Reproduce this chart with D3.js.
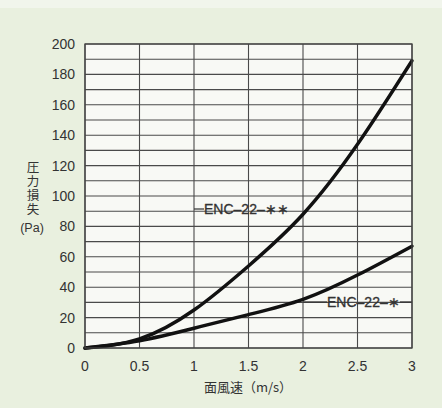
<!DOCTYPE html>
<html>
<head>
<meta charset="utf-8">
<script src="https://cdn.jsdelivr.net/npm/d3@7"></script>
<style>
  html, body { margin: 0; padding: 0; background: #e9f0df; }
  svg { display: block; font-family: 'Liberation Sans', Arial, sans-serif; }
</style>
</head>
<body>
<svg id="chart" width="442" height="408"></svg>
<script>
// 面風速 (m/s)
const speeds = [0, 0.5, 1, 1.5, 2, 2.5, 3]
// 圧力損失 (Pa)
const lossDouble = [0, 6, 25, 54, 88, 134, 189] // ENC-22-**
const lossSingle = [0, 4.8, 13, 22, 32, 48, 67] // ENC-22-*
const xTicks = [0, 0.5, 1, 1.5, 2, 2.5, 3]
const yTicks = [0, 20, 40, 60, 80, 100, 120, 140, 160, 180, 200]
const yGrid = d3.range(0, 201, 10)

const svg = d3.select('#chart')
const plot = { left: 85, right: 412, top: 44, bottom: 348 }

const x = d3.scaleLinear().domain([0, 3]).range([plot.left, plot.right])
const y = d3.scaleLinear().domain([0, 200]).range([plot.bottom, plot.top])

// faint lighter band on top, like the scan
svg.append('rect').attr('x', 0).attr('y', 0).attr('width', 442).attr('height', 8).attr('fill', '#f1f5ec')

svg
  .append('rect')
  .attr('x', plot.left)
  .attr('y', plot.top)
  .attr('width', plot.right - plot.left)
  .attr('height', plot.bottom - plot.top)
  .attr('fill', '#f8f9f5')

const grid = svg.append('g').attr('stroke', '#4a4a4a').attr('stroke-width', 1.1)
grid
  .selectAll('line.h')
  .data(yGrid)
  .join('line')
  .attr('x1', plot.left)
  .attr('x2', plot.right)
  .attr('y1', (d) => y(d))
  .attr('y2', (d) => y(d))
grid
  .selectAll('line.v')
  .data(xTicks)
  .join('line')
  .attr('x1', (d) => x(d))
  .attr('x2', (d) => x(d))
  .attr('y1', plot.top)
  .attr('y2', plot.bottom)

// y tick labels
svg
  .append('g')
  .attr('fill', '#333')
  .attr('font-size', 14)
  .attr('text-anchor', 'end')
  .selectAll('text')
  .data(yTicks)
  .join('text')
  .attr('x', 75)
  .attr('y', (d) => y(d))
  .attr('dy', '0.35em')
  .text((d) => d)

// x tick labels
svg
  .append('g')
  .attr('fill', '#333')
  .attr('font-size', 14)
  .attr('text-anchor', 'middle')
  .selectAll('text')
  .data(xTicks)
  .join('text')
  .attr('x', (d) => x(d))
  .attr('y', 366)
  .attr('dy', '0.35em')
  .text((d) => d)

// axis titles
svg
  .append('text')
  .attr('x', 248)
  .attr('y', 387)
  .attr('dy', '0.35em')
  .attr('text-anchor', 'middle')
  .attr('font-size', 13)
  .attr('fill', '#333')
  .attr('font-family', 'Noto Sans CJK JP')
  .text('面風速（m/s）')

// vertical title, one text element set top to bottom
svg
  .append('text')
  .attr('x', 33)
  .attr('y', 161)
  .attr('font-size', 12.5)
  .attr('font-family', 'Noto Sans CJK JP')
  .attr('fill', '#333')
  .style('writing-mode', 'vertical-rl')
  .style('letter-spacing', '1.5px')
  .text('圧力損失')
svg
  .append('text')
  .attr('x', 32)
  .attr('y', 228)
  .attr('dy', '0.35em')
  .attr('text-anchor', 'middle')
  .attr('font-size', 12.5)
  .attr('fill', '#333')
  .text('(Pa)')

// curves
const line = d3
  .line()
  .x((d) => x(d[0]))
  .y((d) => y(d[1]))
  .curve(d3.curveNatural)

const curves = [d3.zip(speeds, lossDouble), d3.zip(speeds, lossSingle)]
svg
  .append('g')
  .attr('fill', 'none')
  .attr('stroke', '#111')
  .attr('stroke-width', 3.4)
  .attr('stroke-linecap', 'round')
  .selectAll('path')
  .data(curves)
  .join('path')
  .attr('d', line)

// series labels with leader lines
const labels = svg
  .append('g')
  .attr('font-size', 14)
  .attr('fill', '#333')
  .attr('stroke', '#333')
  .attr('stroke-width', 0.3)
labels
  .append('line')
  .attr('x1', x(1))
  .attr('x2', x(1) + 10)
  .attr('y1', 209)
  .attr('y2', 209)
  .attr('stroke-width', 1.2)
labels
  .append('text')
  .attr('x', x(1) + 10)
  .attr('y', 209)
  .attr('dy', '0.35em')
  .text('ENC–22–∗∗')

labels
  .append('line')
  .attr('x1', x(2))
  .attr('x2', 327)
  .attr('y1', 302)
  .attr('y2', 302)
  .attr('stroke-width', 1.2)
labels
  .append('line')
  .attr('x1', 400)
  .attr('x2', plot.right)
  .attr('y1', 302)
  .attr('y2', 302)
  .attr('stroke-width', 1.2)
labels
  .append('text')
  .attr('x', 327)
  .attr('y', 302)
  .attr('dy', '0.35em')
  .text('ENC–22–∗')

// frame
svg
  .append('rect')
  .attr('x', plot.left)
  .attr('y', plot.top)
  .attr('width', plot.right - plot.left)
  .attr('height', plot.bottom - plot.top)
  .attr('fill', 'none')
  .attr('stroke', '#444')
  .attr('stroke-width', 1.3)
</script>
</body>
</html>
